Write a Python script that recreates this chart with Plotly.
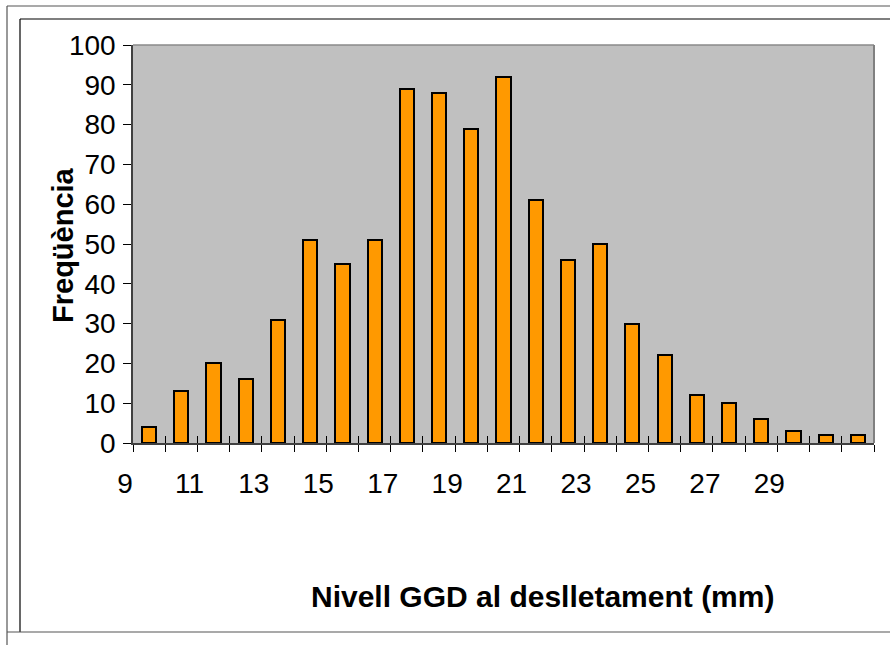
import plotly.graph_objects as go

# Histogram bins (lower edge of each 1 mm class) and counts
bin_start = [9, 10, 11, 12, 13, 14, 15, 16, 17, 18, 19, 20, 21, 22, 23, 24, 25,
             26, 27, 28, 29, 30, 31]
counts = [4, 13, 20, 16, 31, 51, 45, 51, 89, 88, 79, 92, 61, 46, 50, 30, 22,
          12, 10, 6, 3, 2, 2]
tick_labels = ["9", "", "11", "", "13", "", "15", "", "17", "", "19", "", "21", "",
               "23", "", "25", "", "27", "", "29", "", "", ""]
y_ticks = [0, 10, 20, 30, 40, 50, 60, 70, 80, 90, 100]

edges = bin_start + [bin_start[-1] + 1]
centers = [b + 0.5 for b in bin_start]

FONT = "Liberation Sans, Arial, sans-serif"
W, H = 890, 645
L, R, T, B = 133, 16, 45, 202
PW, PH = W - L - R, H - T - B


def px(x):
    return (x - L) / PW


def py(y):
    return (H - B - y) / PH


fig = go.Figure()
fig.add_trace(go.Bar(
    x=centers, y=counts, width=0.44,
    marker=dict(color="#FF9900", line=dict(color="#000000", width=2)),
    hoverinfo="x+y", showlegend=False,
))
# helper trace so the overlaid axis (inner tick marks) is drawn
fig.add_trace(go.Scatter(x=[edges[0]], y=[0], xaxis="x2", mode="markers",
                         marker=dict(opacity=0), hoverinfo="skip",
                         showlegend=False))

fig.update_layout(
    width=W, height=H,
    margin=dict(l=L, r=R, t=T, b=B),
    paper_bgcolor="#FFFFFF",
    plot_bgcolor="#C0C0C0",
    font=dict(family=FONT, color="#000000"),
    bargap=0,
    xaxis=dict(
        range=[edges[0], edges[-1]],
        tickmode="array", tickvals=edges, ticktext=tick_labels,
        ticks="outside", ticklen=7, tickwidth=1.2, tickcolor="#000000",
        tickfont=dict(size=28, family=FONT),
        ticklabelstandoff=8, ticklabelshift=-8,
        showline=True, linecolor="#404040", linewidth=1.5,
        showgrid=False, zeroline=False, fixedrange=True,
    ),
    xaxis2=dict(
        overlaying="x", matches="x", anchor="y",
        range=[edges[0], edges[-1]],
        tickmode="array", tickvals=edges,
        ticks="inside", ticklen=7, tickwidth=1.2, tickcolor="#000000",
        showticklabels=False, showline=False, showgrid=False, zeroline=False,
    ),
    yaxis=dict(
        range=[0, 100],
        tickmode="array", tickvals=y_ticks,
        ticks="outside", ticklen=8, tickwidth=1.2, tickcolor="#000000",
        tickfont=dict(size=28, family=FONT),
        ticklabelstandoff=2,
        showline=True, linecolor="#404040", linewidth=1.5,
        showgrid=False, zeroline=False, fixedrange=True,
    ),
    annotations=[
        dict(text="<b>Freqüència</b>", x=px(63), y=py(245), xref="paper",
             yref="paper", textangle=-90, showarrow=False,
             font=dict(size=29, family=FONT), xanchor="center",
             yanchor="middle"),
        dict(text="<b>Nivell GGD al deslletament (mm)</b>", x=px(542),
             y=py(596), xref="paper", yref="paper", showarrow=False,
             font=dict(size=30, family=FONT), xanchor="center",
             yanchor="middle"),
    ],
    shapes=[
        # plot-area frame: light top edge, darker right edge
        dict(type="line", xref="paper", yref="paper", x0=0, x1=1, y0=1, y1=1,
             line=dict(color="#8A8A8A", width=1.5)),
        dict(type="line", xref="paper", yref="paper", x0=1, x1=1, y0=0, y1=1,
             line=dict(color="#808080", width=2)),
        # chart frame lines around the figure
        dict(type="line", xref="paper", yref="paper", x0=px(7), x1=px(W),
             y0=py(6), y1=py(6), line=dict(color="#555555", width=1.2)),
        dict(type="line", xref="paper", yref="paper", x0=px(20), x1=px(W),
             y0=py(19), y1=py(19), line=dict(color="#000000", width=1.2)),
        dict(type="line", xref="paper", yref="paper", x0=px(7), x1=px(7),
             y0=py(6), y1=py(H), line=dict(color="#555555", width=1.2)),
        dict(type="line", xref="paper", yref="paper", x0=px(20), x1=px(20),
             y0=py(19), y1=py(632), line=dict(color="#000000", width=1.2)),
        dict(type="line", xref="paper", yref="paper", x0=px(7), x1=px(W),
             y0=py(632), y1=py(632), line=dict(color="#555555", width=1.2)),
    ],
)

fig.write_html("out.html", config={"displayModeBar": False})
